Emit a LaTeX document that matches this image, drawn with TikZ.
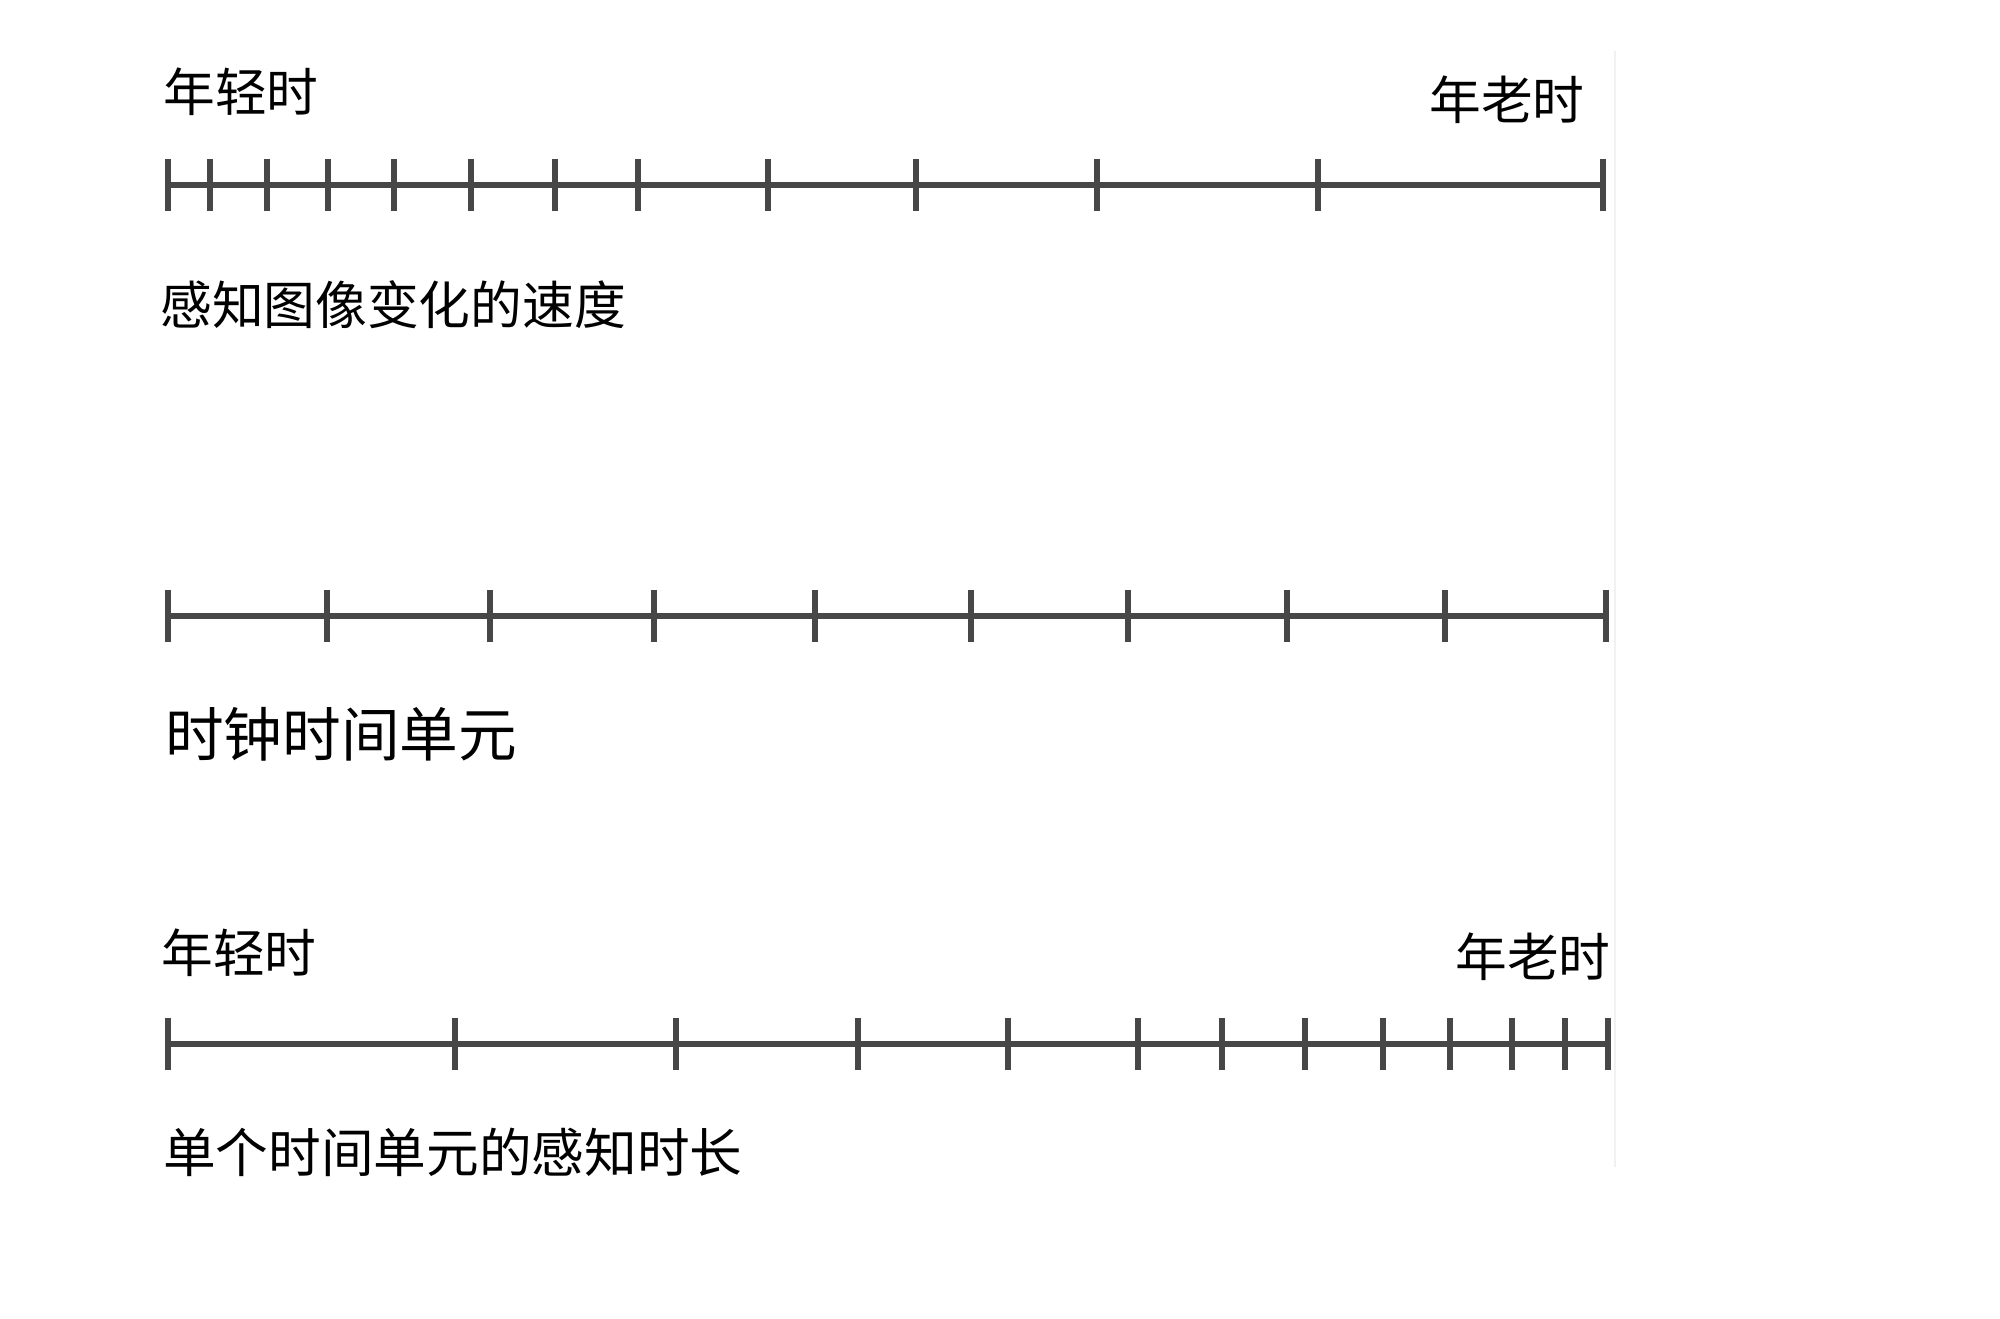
\documentclass[tikz,border=0pt]{standalone}
\usepackage{fontspec}
\newfontfamily\cjk{Noto Sans CJK SC}
\definecolor{axisgray}{HTML}{474747}
\definecolor{faintgray}{HTML}{F1F1F1}
\begin{document}
\begin{tikzpicture}[x=0.75pt,y=-0.75pt,
  axisline/.style={draw=axisgray, line width=4.8pt},
  tickmark/.style={draw=axisgray, line width=4.5pt},
  lbl/.style={anchor=west, inner sep=0pt, font=\cjk\fontsize{38.8pt}{38.8pt}\selectfont, text height=0.83em, text depth=0.07em},
  lblsmall/.style={lbl, font=\cjk\fontsize{38.8pt}{38.8pt}\selectfont},
  lblwide/.style={lbl, font=\cjk\fontsize{39.5pt}{39.5pt}\selectfont},
  lblbig/.style={lbl, font=\cjk\fontsize{44pt}{44pt}\selectfont}]
\useasboundingbox (0,0) rectangle (2000,1319);
\fill[white] (0,0) rectangle (2000,1319);
% faint vertical line
\coordinate (ft) at (1615,51);
\coordinate (fb) at (1615,1167);
\draw[faintgray, line width=1.5pt] (ft) -- (fb);
% axis 1
\coordinate (a1s) at (168,185);
\coordinate (a1e) at (1603,185);
\draw[axisline] (a1s) -- (a1e);
\foreach \x in {168,210,267,328,394,471,555,638,768,916,1097,1318,1603}
  \draw[tickmark] (\x,159) -- (\x,211);
% axis 2
\coordinate (a2s) at (168,616);
\coordinate (a2e) at (1606,616);
\draw[axisline] (a2s) -- (a2e);
\foreach \x in {168,327,490,654,815,971,1128,1287,1445,1606}
  \draw[tickmark] (\x,590) -- (\x,642);
% axis 3
\coordinate (a3s) at (168,1044);
\coordinate (a3e) at (1608,1044);
\draw[axisline] (a3s) -- (a3e);
\foreach \x in {168,455,676,858,1008,1138,1222,1305,1383,1450,1512,1565,1608}
  \draw[tickmark] (\x,1018) -- (\x,1070);
% labels
\node[lbl] (young1) at (163,106) {年轻时};
\node[lbl] (old1) at (1429,114) {年老时};
\node[lblsmall] (speed) at (160,319) {感知图像变化的速度};
\node[lblbig] (clock) at (165,751) {时钟时间单元};
\node[lbl] (young2) at (161,967) {年轻时};
\node[lbl] (old2) at (1455,971) {年老时};
\node[lblwide] (dur) at (163,1167) {单个时间单元的感知时长};
\end{tikzpicture}
\end{document}
